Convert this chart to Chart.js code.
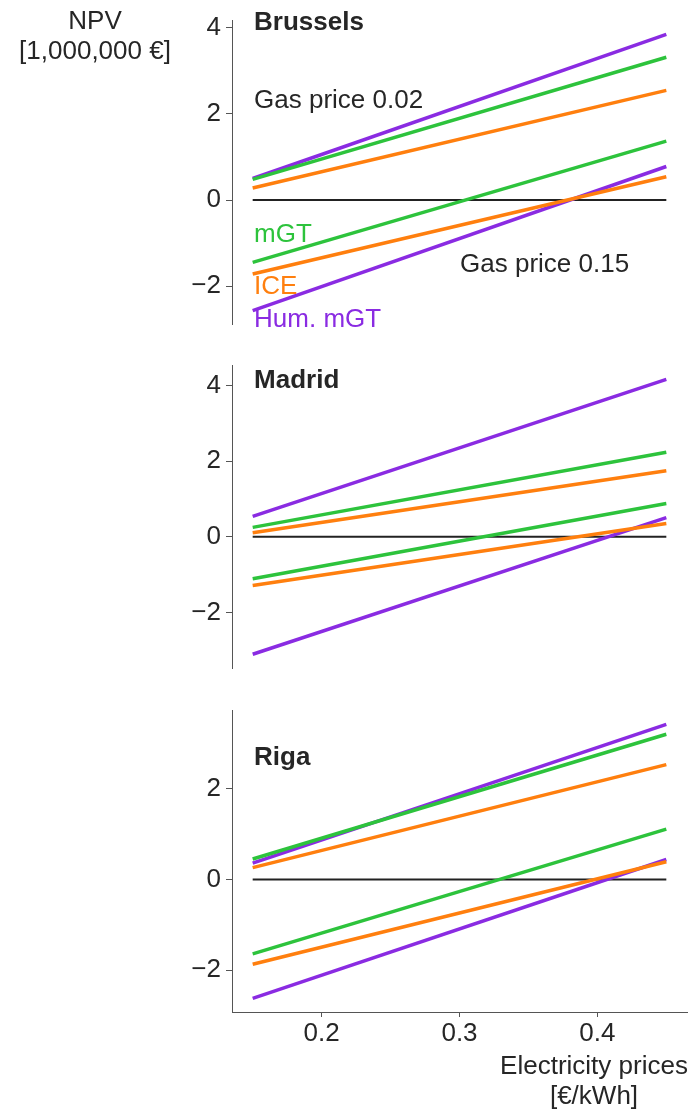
<!DOCTYPE html>
<html><head><meta charset="utf-8">
<script src="https://cdn.jsdelivr.net/npm/chart.js@4/dist/chart.umd.min.js"></script>
<style>
html,body{margin:0;padding:0;background:#fff;}
#wrap{position:relative;width:695px;height:1113px;overflow:hidden;}
canvas{position:absolute;left:0;}
</style></head><body>
<div id="wrap">
<canvas id="c0" width="695" height="345" style="top:0px"></canvas>
<canvas id="c1" width="695" height="345" style="top:345px"></canvas>
<canvas id="c2" width="695" height="423" style="top:690px"></canvas>
</div>
<script>
// Electricity price range [€/kWh] (start and end of each line)
const elecPrices = [0.15, 0.45];
const cities = ['Brussels', 'Madrid', 'Riga'];
const techNames = ['mGT', 'ICE', 'Hum. mGT'];
const gasLabels = ['Gas price 0.02', 'Gas price 0.15'];
const xTicks = [0.2, 0.3, 0.4];
const yTicksBrussels = [-2, 0, 2, 4];
const yTicksMadrid = [-2, 0, 2, 4];
const yTicksRiga = [-2, 0, 2];

// NPV [million €] at the two ends of the electricity price range
// Brussels
const brusselsMgtGasLow  = [0.48, 3.32];
const brusselsIceGasLow  = [0.28, 2.55];
const brusselsHumGasLow  = [0.50, 3.85];
const brusselsMgtGasHigh = [-1.45, 1.37];
const brusselsIceGasHigh = [-1.72, 0.54];
const brusselsHumGasHigh = [-2.57, 0.78];
// Madrid
const madridMgtGasLow  = [0.25, 2.24];
const madridIceGasLow  = [0.11, 1.75];
const madridHumGasLow  = [0.54, 4.17];
const madridMgtGasHigh = [-1.11, 0.88];
const madridIceGasHigh = [-1.29, 0.35];
const madridHumGasHigh = [-3.11, 0.51];
// Riga
const rigaMgtGasLow  = [0.45, 3.20];
const rigaIceGasLow  = [0.26, 2.53];
const rigaHumGasLow  = [0.36, 3.42];
const rigaMgtGasHigh = [-1.64, 1.11];
const rigaIceGasHigh = [-1.87, 0.39];
const rigaHumGasHigh = [-2.62, 0.44];

const COLORS = { mGT: '#2dc33c', ICE: '#ff7f0e', hum: '#8a2be2', zero: '#222222', text: '#262626', spine: '#555555' };
const FONT = '"Liberation Sans", Arial, Helvetica, sans-serif';
const FS = 26;

const pts = vals => vals.map((v, i) => ({ x: elecPrices[i], y: v }));

// matplotlib-like 5% data margins
function limits(arrays, frac) {
  const all = [].concat(...arrays, [0]);
  const lo = Math.min(...all), hi = Math.max(...all);
  const m = (hi - lo) * frac;
  return [lo - m, hi + m];
}

const notesPlugin = {
  id: 'notes',
  afterDatasetsDraw(chart, args, opts) {
    const { ctx } = chart;
    const xs = chart.scales.x, ys = chart.scales.y;
    ctx.save();
    (opts.items || []).forEach(n => {
      ctx.font = (n.bold ? 'bold ' : '') + FS + 'px ' + FONT;
      ctx.fillStyle = n.color || COLORS.text;
      ctx.textAlign = n.align || 'left';
      ctx.textBaseline = 'middle';
      const px = n.px != null ? n.px : xs.getPixelForValue(n.x);
      const py = n.py != null ? n.py : ys.getPixelForValue(n.y);
      ctx.fillText(n.text, px, py);
    });
    ctx.restore();
  }
};

function lineDs(data, color) {
  return { data: pts(data), borderColor: color, borderWidth: 3.5, pointRadius: 0, fill: false, tension: 0, order: 1 };
}

function makePanel(id, series, yTicks, pad, showX, notes) {
  const [ymin, ymax] = limits(series, 0.05);
  const datasets = [
    lineDs(series[0], COLORS.mGT),
    lineDs(series[1], COLORS.ICE),
    lineDs(series[2], COLORS.hum),
    lineDs(series[3], COLORS.mGT),
    lineDs(series[4], COLORS.ICE),
    lineDs(series[5], COLORS.hum),
    { data: pts([0, 0]), borderColor: COLORS.zero, borderWidth: 2, pointRadius: 0, order: 5 }
  ];
  return new Chart(document.getElementById(id), {
    type: 'line',
    data: { datasets },
    plugins: [notesPlugin],
    options: {
      responsive: false, animation: false, devicePixelRatio: 1,
      layout: { padding: pad },
      plugins: { legend: { display: false }, tooltip: { enabled: false }, notes: { items: notes } },
      scales: {
        x: {
          type: 'linear', min: 0.135, max: 0.465, display: showX,
          afterBuildTicks: s => { s.ticks = xTicks.map(v => ({ value: v })); },
          afterFit: s => { s.height = showX ? 40 : 0; },
          grid: { drawOnChartArea: false, drawTicks: true, tickLength: 5, tickColor: COLORS.spine },
          border: { display: true, color: COLORS.spine, width: 1 },
          ticks: { color: COLORS.text, font: { family: FONT, size: FS }, padding: 1, maxRotation: 0,
                   callback: v => v.toFixed(1) }
        },
        y: {
          type: 'linear', min: ymin, max: ymax,
          afterBuildTicks: s => { s.ticks = yTicks.map(v => ({ value: v })); },
          afterFit: s => { s.width = 232; },
          grid: { drawOnChartArea: false, drawTicks: true, tickLength: 6, tickColor: COLORS.spine },
          border: { display: true, color: COLORS.spine, width: 1 },
          ticks: { color: COLORS.text, font: { family: FONT, size: FS }, padding: 5,
                   callback: v => (v < 0 ? '\u2212' + Math.abs(v) : String(v)) }
        }
      }
    }
  });
}

// Brussels panel with the series labels and axis unit
makePanel('c0',
  [brusselsMgtGasLow, brusselsIceGasLow, brusselsHumGasLow, brusselsMgtGasHigh, brusselsIceGasHigh, brusselsHumGasHigh],
  yTicksBrussels, { top: 19, bottom: 20, left: 0, right: 8 }, false,
  [
    { text: cities[0], x: 0.151, y: 4.12, bold: true },
    { text: gasLabels[0], x: 0.151, y: 2.30 },
    { text: gasLabels[1], x: 0.3004, y: -1.51 },
    { text: techNames[0], x: 0.151, y: -0.81, color: COLORS.mGT },
    { text: techNames[1], x: 0.151, y: -2.01, color: COLORS.ICE },
    { text: techNames[2], x: 0.151, y: -2.78, color: COLORS.hum },
    { text: 'NPV', px: 95, py: 22, align: 'center' },
    { text: '[1,000,000 €]', px: 95, py: 52, align: 'center' }
  ]);

makePanel('c1',
  [madridMgtGasLow, madridIceGasLow, madridHumGasLow, madridMgtGasHigh, madridIceGasHigh, madridHumGasHigh],
  yTicksMadrid, { top: 18, bottom: 22, left: 0, right: 8 }, false,
  [ { text: cities[1], x: 0.151, y: 4.13, bold: true } ]);

makePanel('c2',
  [rigaMgtGasLow, rigaIceGasLow, rigaHumGasLow, rigaMgtGasHigh, rigaIceGasHigh, rigaHumGasHigh],
  yTicksRiga, { top: 17, bottom: 61, left: 0, right: 8 }, true,
  [
    { text: cities[2], x: 0.151, y: 2.68, bold: true },
    { text: 'Electricity prices', px: 594, py: 377, align: 'center' },
    { text: '[€/kWh]', px: 594, py: 407, align: 'center' }
  ]);
</script>
</body></html>
